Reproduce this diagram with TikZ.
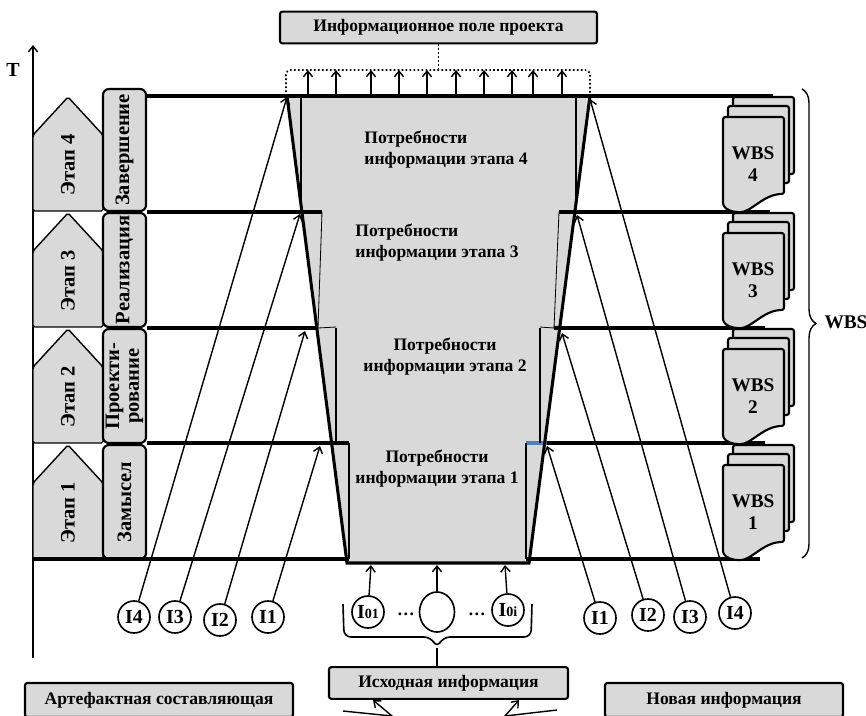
\documentclass[tikz,border=0pt]{standalone}
\usepackage{fontspec}
\setmainfont{Liberation Serif}
\usetikzlibrary{positioning, arrows.meta, shapes.geometric, calc, decorations.pathreplacing}

\definecolor{boxgray}{RGB}{217,217,217}
\definecolor{stepblue}{RGB}{79,129,189}

% one WBS sheet, top left corner at (#1,#2)
\newcommand{\wbssheet}[2]{%
  \filldraw[sheet] (#1,#2+84) -- (#1,#2) -- (#1+61,#2) -- (#1+61,#2+77)
    .. controls (#1+40,#2+77) and (#1+28,#2+96) .. (#1+14,#2+95)
    .. controls (#1+5,#2+94) and (#1,#2+90) .. (#1,#2+84) -- cycle;}

\begin{document}
\begin{tikzpicture}[x=0.03cm, y=-0.03cm,
    font=\fontsize{15}{18}\selectfont\bfseries,
    big/.style={font=\fontsize{17.5}{17}\selectfont\bfseries},
    stage/.style={line width=2.6pt},
    arr/.style={-{Straight Barb[length=5pt, width=8pt]}, line width=1.2pt},
    infobox/.style={draw, line width=1.8pt, fill=boxgray, rounded corners=2pt, minimum height=0.95cm, inner sep=2pt},
    phasebox/.style={draw, line width=1.8pt, fill=boxgray, rounded corners=5pt, minimum height=1.29cm, inner sep=0pt, rotate=90, align=center, big},
    src/.style={draw, circle, line width=1.4pt, minimum size=0.96cm, inner sep=0pt, font=\fontsize{17}{17}\selectfont\bfseries},
    sheet/.style={line width=1.8pt, fill=boxgray, rounded corners=2pt},
    stepline/.style={line width=1.8pt}
]

    \clip (0,0) rectangle (866,715);
    \fill[white] (0,0) rectangle (866,715);

    % === Time axis and stages ===
    \draw[arr] (33,658) -- (33,45);
    \node[font=\fontsize{17}{17}\selectfont\bfseries] (tlabel) at (13,70) {T};

    \foreach \k/\y in {4/96,3/212,2/328,1/444}{
        \filldraw[fill=boxgray, line width=1.2pt, rounded corners=1.5pt]
            (33,\y+115) -- (33,\y+39) -- (68,\y+1) -- (103,\y+39) -- (103,\y+115) -- cycle;
        \node[rotate=90, big] (stage\k) at (68,\y+69) {Этап \k};
    }

    \node[phasebox, minimum width=3.66cm] (ph4) at (124.5,150) {Завершение};
    \node[phasebox, minimum width=3.42cm] (ph3) at (124.5,270) {Реализация};
    \node[phasebox, minimum width=3.42cm] (ph2) at (124.5,386) {Проекти-\\рование};
    \node[phasebox, minimum width=3.42cm] (ph1) at (124.5,502) {Замысел};

    % === Information needs ===
    \fill[boxgray] (287,96) -- (590,96) -- (529,563) -- (347,563) -- cycle;

    \draw[stage] (147,96) -- (773,96);
    \draw[stage] (147,212) -- (322,212);
    \draw[stage] (559,212) -- (770,212);
    \draw[stage] (147,328) -- (318,328);
    \draw[stage] (554,328) -- (765,328);
    \draw[stage] (147,443) -- (349,443);
    \draw[stage] (547,443) -- (765,443);
    \draw[stage, stepblue] (526,443) -- (547,443);
    \draw[stage] (33,559) -- (349,559);
    \draw[stage] (526,559) -- (760,559);

    % steps
    \draw[stepline] (301,96) -- (301,212);
    \draw[line width=0.7pt] (322,212) -- (318,328) -- (336,327);
    \draw[stepline] (336,328) -- (336,443);
    \draw[stepline] (349,443) -- (349,559);
    \draw[stepline] (576,96) -- (576,212);
    \draw[line width=0.7pt] (559,212) -- (554,328) -- (540,327);
    \draw[stepline] (540,328) -- (540,443);
    \draw[stepline] (526,443) -- (526,559);

    \draw[stage] (287,96) -- (347,563) -- (529,563) -- (590,96);

    \node[align=left] (need4) at (446,150) {Потребности\\информации этапа 4};
    \node[align=left] (need3) at (437,243) {Потребности\\информации этапа 3};
    \node[align=center] (need2) at (445,357) {Потребности\\информации этапа 2};
    \node[align=center] (need1) at (437,469) {Потребности\\информации этапа 1};

    % === Project information field ===
    \node[infobox, minimum width=9.51cm] (field) at (438.5,27.5) {Информационное поле проекта};
    \coordinate (brk) at (440,70);
    \draw[dotted, line width=1.4pt, rounded corners=4pt] (286,96) -- (286,70) -- (590,70) -- (590,96);
    \draw[dotted, line width=1.4pt] (field.south) -- (field.south |- brk);
    \foreach \x in {308,336,371,399,427,456,484,512,533,562}
        \draw[arr] (\x,96) -- (\x,70);

    % === WBS ===
    \foreach \k/\y in {4/96,3/212,2/328,1/444}{
        \wbssheet{733}{\y+1}
        \wbssheet{728}{\y+10}
        \wbssheet{723}{\y+21}
        \node[align=center, font=\fontsize{16.5}{19}\selectfont\bfseries] (wbs\k) at (753,\y+68) {WBS\\\k};
    }
    \draw[decorate, decoration={brace, amplitude=12pt}, line width=1.2pt] (802,89) -- (802,558);
    \node[font=\fontsize{16.5}{19}\selectfont\bfseries] (wbsall) at (846,322) {WBS};

    % === Incoming information ===
    \coordinate (a4l) at (287,97);
    \coordinate (a3l) at (300,214);
    \coordinate (a2l) at (305,331);
    \coordinate (a1l) at (320,446);
    \coordinate (a4r) at (590,99);
    \coordinate (a3r) at (577,215);
    \coordinate (a2r) at (562,333);
    \coordinate (a1r) at (547,446);

    \node[src] (l4) at (134,617) {I4};
    \node[src] (l3) at (175,617) {I3};
    \node[src] (l2) at (220,620) {\raisebox{-4pt}{I2}};
    \node[src] (l1) at (268,617) {I1};
    \node[src] (r1) at (600,618) {\raisebox{-4pt}{I1}};
    \node[src] (r2) at (648,615) {I2};
    \node[src] (r3) at (690,617) {\raisebox{-4pt}{I3}};
    \node[src] (r4) at (735,613) {I4};

    \draw[arr] (l4) -- (a4l);
    \draw[arr] (l3) -- (a3l);
    \draw[arr] (l2) -- (a2l);
    \draw[arr] (l1) -- (a1l);
    \draw[arr] (r4) -- (a4r);
    \draw[arr] (r3) -- (a3r);
    \draw[arr] (r2) -- (a2r);
    \draw[arr] (r1) -- (a1r);

    \node[src] (s1) at (368,612) {\raisebox{-3pt}{I\fontsize{12}{12}\selectfont 01}};
    \node[draw, ellipse, line width=1.4pt, minimum width=1.05cm, minimum height=1.2cm] (s2) at (437,612) {};
    \node[src] (s3) at (508,610) {I\fontsize{12}{12}\selectfont 0i};
    \node (d1) at (406,614) {\dots};
    \node (d2) at (477,614) {\dots};

    \coordinate (b1) at (371,565);
    \coordinate (b2) at (437,565);
    \coordinate (b3) at (505,565);
    \draw[arr] (s1) -- (b1);
    \draw[arr] (s2) -- (b2);
    \draw[arr] (s3) -- (b3);

    \node[infobox, minimum width=7.17cm] (srcinfo) at (448.5,683) {Исходная информация};
    \coordinate (btip) at (437,648);
    \draw[line width=1.4pt, rounded corners=6pt] (343,604) -- (344,637) -- (431,637) -- (btip) -- (443,637) -- (531,637) -- (532,604);
    \draw[line width=1.4pt] (btip) -- (btip |- srcinfo.north);

    % === Bottom ===
    \node[infobox, minimum width=8.04cm, minimum height=1.02cm] (artef) at (159,700) {Артефактная составляющая};
    \node[infobox, minimum width=7.14cm, minimum height=1.02cm] (newinfo) at (724,700) {Новая информация};

    \coordinate (f1) at (343,711);
    \coordinate (t1) at (373,700);
    \coordinate (f2) at (557,710);
    \coordinate (t2) at (519,700);
    \draw[arr] (f1) -- (392,716) -- (t1);
    \draw[arr] (f2) -- (505,716) -- (t2);

\end{tikzpicture}
\end{document}
